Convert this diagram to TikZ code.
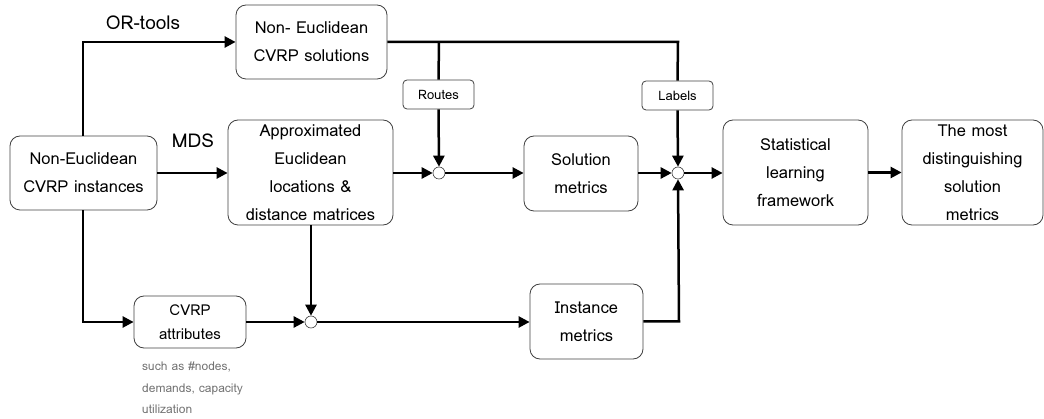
\documentclass[tikz,border=0pt]{standalone}
\usepackage{fontspec}
\setmainfont{Loma}
\usetikzlibrary{arrows.meta}
\begin{document}
\begin{tikzpicture}[x=1pt,y=-1pt,
  box/.style={draw=black!75,line width=0.8pt,rounded corners=10pt,align=center,inner sep=0pt,
    font=\fontsize{16.5}{28}\selectfont},
  tag/.style={draw=black!75,line width=0.8pt,rounded corners=4pt,align=center,inner sep=0pt,
    font=\fontsize{13}{15}\selectfont},
  junc/.style={circle,draw=black!75,fill=white,line width=0.6pt,minimum size=12pt,inner sep=0pt},
  flow/.style={line width=2.5pt,-{Triangle[length=11pt,width=11pt]}},
  plain/.style={line width=2.5pt},
  lbl/.style={font=\fontsize{19}{22}\selectfont,inner sep=0pt}
]
\useasboundingbox (0,0) rectangle (1044,419);
\node[box,minimum width=147pt,minimum height=74pt] (inst) at (83.5,173) {Non-Euclidean\\CVRP instances};
\node[box,minimum width=151pt,minimum height=74pt] (sol) at (311.5,42) {Non- Euclidean\\CVRP solutions};
\node[box,minimum width=165pt,minimum height=105pt] (appr) at (310.5,172.5) {Approximated\\Euclidean\\locations \&\\distance matrices};
\node[tag,minimum width=71pt,minimum height=29pt] (routes) at (438.5,94.5) {Routes};
\node[tag,minimum width=71pt,minimum height=29pt] (labels) at (677.5,95.5) {Labels};
\node[box,minimum width=114pt,minimum height=75pt] (smet) at (581,173.5) {Solution\\metrics};
\node[box,minimum width=145pt,minimum height=105pt] (stat) at (795.5,172.5) {Statistical\\learning\\framework};
\node[box,minimum width=141pt,minimum height=105pt] (most) at (972.5,172.5) {The most\\distinguishing\\solution\\metrics};
\node[box,minimum width=112pt,minimum height=52pt,font=\fontsize{15}{24}\selectfont] (attr) at (190,322) {CVRP\\attributes};
\node[box,minimum width=113pt,minimum height=75pt] (imet) at (586.5,321.5) {Instance\\metrics};
\node[junc] (j1) at (439,173) {};
\node[junc] (j2) at (678,173) {};
\node[junc] (j3) at (311,322) {};
\node[lbl] (ortools) at (143,23) {OR-tools};
\node[lbl] (mds) at (193,141) {MDS};
\node[anchor=north west,align=left,inner sep=0pt,text=black!55,font=\fontsize{12}{21.5}\selectfont] (note) at (142,362) {such as \#nodes,\\demands, capacity\\utilization};
\coordinate (topL) at (83,42);
\coordinate (botL) at (83,322);
\coordinate (topR) at (678,42);
\coordinate (topM) at (439,42);
\coordinate (imR) at (679,321.5);
% top route
\draw[flow] (inst.north -| topL) -- (topL) -- (sol.west |- topL);
\draw[plain] (sol.east |- topR) -- (topR) -- (labels.north);
\draw[plain] (topM) -- (routes.north);
\draw[flow] (routes.south) -- (j1.north);
\draw[flow] (labels.south) -- (j2.north);
% middle row
\draw[flow] (inst.east) -- (appr.west |- inst.east);
\draw[flow] (appr.east |- j1) -- (j1.west);
\draw[flow] (j1.east) -- (smet.west |- j1);
\draw[flow] (smet.east |- j2) -- (j2.west);
\draw[flow] (j2.east) -- (stat.west |- j2);
\draw[flow] (stat.east) -- (most.west);
% bottom row
\draw[flow] (inst.south -| botL) -- (botL) -- (attr.west);
\draw[flow] (attr.east) -- (j3.west);
\draw[flow] (appr.south -| j3) -- (j3.north);
\draw[flow] (j3.east) -- (imet.west |- j3);
\draw[flow] (imet.east |- imR) -- (imR) -- (j2.south);
\end{tikzpicture}
\end{document}
